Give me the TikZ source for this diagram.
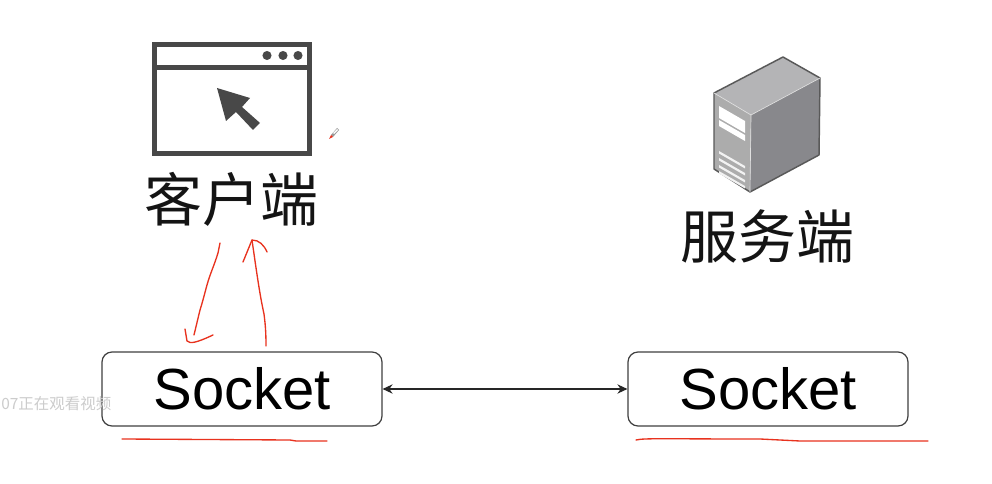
\documentclass[tikz,border=0pt]{standalone}
\usepackage{fontspec}
\setmainfont{Liberation Sans}
\newfontfamily\cjk{Noto Sans CJK SC}
\usetikzlibrary{arrows.meta}
\definecolor{icon}{HTML}{484848}
\definecolor{inkred}{HTML}{E8321E}
\definecolor{srvtop}{HTML}{B4B4B6}
\definecolor{srvside}{HTML}{88888C}
\definecolor{srvfront}{HTML}{ACACAC}
\tikzset{
  x=0.75pt,y=-0.75pt,
  sockbox/.style={draw=black!75,line width=0.9pt,rounded corners=7.5pt,minimum width=210pt,minimum height=55.5pt,inner sep=0pt,text=black,font=\fontsize{43.5}{50}\selectfont},
  cjklabel/.style={inner sep=0pt,text=black!92,font=\cjk\fontsize{43.5}{50}\selectfont},
  ink/.style={draw=inkred,line width=1pt,line cap=round,line join=round},
  link/.style={draw=black!85,line width=1pt,{Stealth[length=7.5pt,width=7pt]}-{Stealth[length=7.5pt,width=7pt]}},
}
\begin{document}
\begin{tikzpicture}
\path[use as bounding box,fill=white] (0,0) rectangle (992,484);
% browser icon
\draw[icon,line width=3.6pt] (154.5,44.5) rectangle (309.5,153.5);
\draw[icon,line width=3.6pt] (154.5,67.5) -- (309.5,67.5);
\foreach \xx in {267,283,298} \fill[icon] (\xx,55.5) circle (3.4pt);
\fill[icon] (217,88) -- (250,98) -- (242,107) -- (260,123) -- (253,130) -- (236,112) -- (226,121) -- cycle;
\node[cjklabel] (client) at (231.5,199) {客户端};
% server icon
\fill[srvtop] (714,93) -- (783,57) -- (820,78) -- (751,115) -- cycle;
\fill[srvside] (751,115) -- (820,78) -- (819,155) -- (750,192) -- cycle;
\fill[srvfront] (714,93) -- (751,115) -- (750,192) -- (714,169) -- cycle;
\draw[black!65,line width=1.1pt,line join=round] (714,93) -- (783,57) -- (820,78) -- (819,155) -- (750,192) -- (714,169) -- cycle;
\draw[black!12,line width=0.5pt] (714,93) -- (751,115) -- (820,78);
\draw[black!12,line width=0.5pt] (751,115) -- (750,192);
\fill[white] (719,106) -- (745,121) -- (745,133) -- (719,118) -- cycle;
\fill[white] (719,120) -- (745,135) -- (745,141) -- (719,126) -- cycle;
\foreach \yy in {151,158,165,171} \fill[white!95!black] (719,\yy) -- (745,\yy+15) -- (745,\yy+17.5) -- (719,\yy+2.5) -- cycle;
\node[cjklabel] (server) at (767.5,236) {服务端};
% sockets
\node[sockbox] (sockA) at (242,389) {Socket};
\node[sockbox] (sockB) at (768,389) {Socket};
\draw[link] (sockA) -- (sockB);
% watermark
\node[anchor=west,inner sep=0pt,text=black!20,font=\cjk\fontsize{11.6}{14}\selectfont] (mark) at (1,404) {07正在观看视频};
% red pen marks
\draw[ink] (220,243) -- (218,253) .. controls (214,266) and (210,274) .. (207,285) .. controls (204,296) and (202,304) .. (200,310) -- (194,335);
\draw[ink] (185,329) -- (187,341) .. controls (190,344) and (196,343) .. (213,335);
\draw[ink] (266,346) .. controls (266,330) and (265,322) .. (264,314) .. controls (260,296) and (257,275) .. (252,240);
\draw[ink] (243,262) -- (252,240) .. controls (259,240) and (264,245) .. (267,252);
\draw[ink] (122,439) -- (290,440) -- (296,441) -- (327,441);
\draw[ink] (636,440) .. controls (645,438) and (660,439) .. (760,439) -- (800,441) -- (928,441);
% pen cursor
\fill[black!40] (331,135) -- (337,128) -- (339,130) -- (333,137) -- cycle;
\fill[white] (333,133) -- (337,129) -- (338,130) -- (334,134) -- cycle;
\fill[inkred] (329,139) -- (331,135) -- (333,137) -- cycle;
\end{tikzpicture}
\end{document}
